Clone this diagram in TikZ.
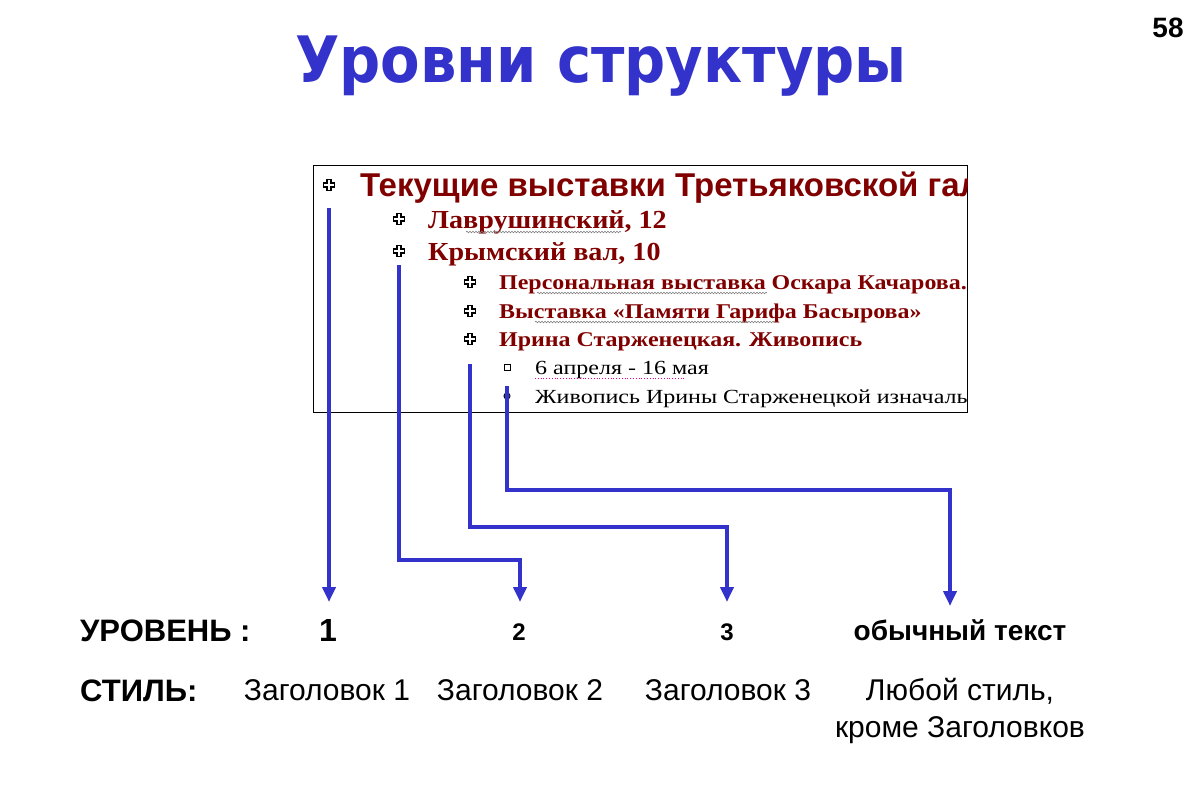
\documentclass[tikz,border=0pt]{standalone}
\usepackage{fontspec}
\setmainfont{Liberation Sans}
\newfontfamily\serifx{Liberation Serif}
\newfontfamily\titlefont{DejaVu Sans}
\usetikzlibrary{arrows.meta,decorations.pathmorphing}
\definecolor{ublue}{HTML}{3333CC}
\definecolor{dred}{HTML}{800000}
\tikzset{
  conn/.style={draw=ublue,line width=4pt,-{Triangle[length=15pt,width=13pt]}},
  txt/.style={inner sep=0pt,anchor=base west},
  ctxt/.style={inner sep=0pt,anchor=base},
  hone/.style={txt,font=\fontsize{33}{33}\selectfont\bfseries,text=dred},
  htwo/.style={txt,font=\fontsize{26}{26}\selectfont\serifx\bfseries,text=dred,xscale=1.08},
  hthree/.style={txt,font=\fontsize{21}{21}\selectfont\serifx\bfseries,text=dred,xscale=1.14},
  body/.style={txt,font=\fontsize{20}{20}\selectfont\serifx,xscale=1.2},
  plus/.pic={\draw[line width=1.5pt,fill=white] (-2,-5.5)--(2,-5.5)--(2,-2)--(5.5,-2)--(5.5,2)--(2,2)--(2,5.5)--(-2,5.5)--(-2,2)--(-5.5,2)--(-5.5,-2)--(-2,-2)--cycle;},
  squig/.style={draw=gray,line width=0.6pt,decorate,decoration={snake,amplitude=0.8pt,segment length=3pt}},
}
\begin{document}
\begin{tikzpicture}[x=1pt,y=-1pt]
\useasboundingbox (0,0) rectangle (1200,800);
% title and page number
\node[ctxt,font=\fontsize{64}{64}\selectfont\titlefont\bfseries,text=ublue,xscale=0.9] (title) at (601,82) {Уровни структуры};
\node[ctxt,font=\fontsize{28}{28}\selectfont\bfseries] (page) at (1168,38) {58};
% screenshot frame
\node[draw=black,line width=1pt,minimum width=654pt,minimum height=247pt,inner sep=0pt,anchor=north west] (frame) at (313,165) {};
\begin{scope}
\clip (313,165) rectangle (967,412);
\pic at (329,185) {plus};
\node[hone] (t1) at (360,196) {Текущие выставки Третьяковской галереи};
\pic at (399,219) {plus};
\node[htwo] (t2a) at (428,228) {Лаврушинский, 12};
\pic at (399,251) {plus};
\node[htwo] (t2b) at (428,260) {Крымский вал, 10};
\pic at (470,282) {plus};
\node[hthree] (t3a) at (499,289) {Персональная выставка Оскара Качарова.};
\pic at (470,311) {plus};
\node[hthree] (t3b) at (499,318) {Выставка «Памяти Гарифа Басырова»};
\pic at (470,339) {plus};
\node[hthree] (t3c) at (499,346) {Ирина Старженецкая. Живопись};
\draw[line width=1pt,fill=white] (504,364) rectangle (510,370);
\node[body] (b1) at (535,374) {6 апреля - 16 мая};
\draw[line width=1pt,fill=white] (507,396) circle (3);
\node[body] (b2) at (535,403) {Живопись Ирины Старженецкой изначально};
% spell-check underlines
\draw[squig] (t2a.base west) ++(38,4) -- ++(155,0);
\draw[squig] (t3a.base west) ++(38,4) -- ++(230,0);
\draw[squig] (t3b.base west) ++(36,4) -- ++(240,0);
\draw[draw=magenta,line width=0.8pt,dotted] (b1.base west) ++(0,4) -- ++(150,0);
\end{scope}
% connector anchors
\coordinate (s1) at (329,208);
\coordinate (s2) at (399,265);
\coordinate (s3) at (470,364);
\coordinate (s4) at (507,386);
\coordinate (e1) at (329,602);
\coordinate (e2) at (520,602);
\coordinate (e3) at (727,602);
\coordinate (e4) at (950,606);
\draw[conn] (s1) -- (e1);
\draw[conn] (s2) |- (460,560) -| (e2);
\draw[conn] (s3) |- (600,527) -| (e3);
\draw[conn] (s4) |- (700,490) -| (e4);
% bottom labels
\node[txt,font=\fontsize{31}{31}\selectfont\bfseries] (lvl) at (80,641) {УРОВЕНЬ :};
\node[ctxt,font=\fontsize{32}{32}\selectfont\bfseries] (l1) at (328,641) {1};
\node[ctxt,font=\fontsize{24}{24}\selectfont\bfseries] (l2) at (519,640) {2};
\node[ctxt,font=\fontsize{24}{24}\selectfont\bfseries] (l3) at (727,640) {3};
\node[ctxt,font=\fontsize{28}{28}\selectfont\bfseries] (l4) at (960,640) {обычный текст};
\node[txt,font=\fontsize{31}{31}\selectfont\bfseries] (sty) at (80,701) {СТИЛЬ:};
\node[ctxt,font=\fontsize{30}{30}\selectfont] (s1t) at (327,700) {Заголовок 1};
\node[ctxt,font=\fontsize{30}{30}\selectfont] (s2t) at (520,700) {Заголовок 2};
\node[ctxt,font=\fontsize{30}{30}\selectfont] (s3t) at (728,700) {Заголовок 3};
\node[ctxt,font=\fontsize{30}{30}\selectfont] (s4t) at (960,700) {Любой стиль,};
\node[ctxt,font=\fontsize{30}{30}\selectfont] (s4u) at (960,737) {кроме Заголовков};
\end{tikzpicture}
\end{document}
